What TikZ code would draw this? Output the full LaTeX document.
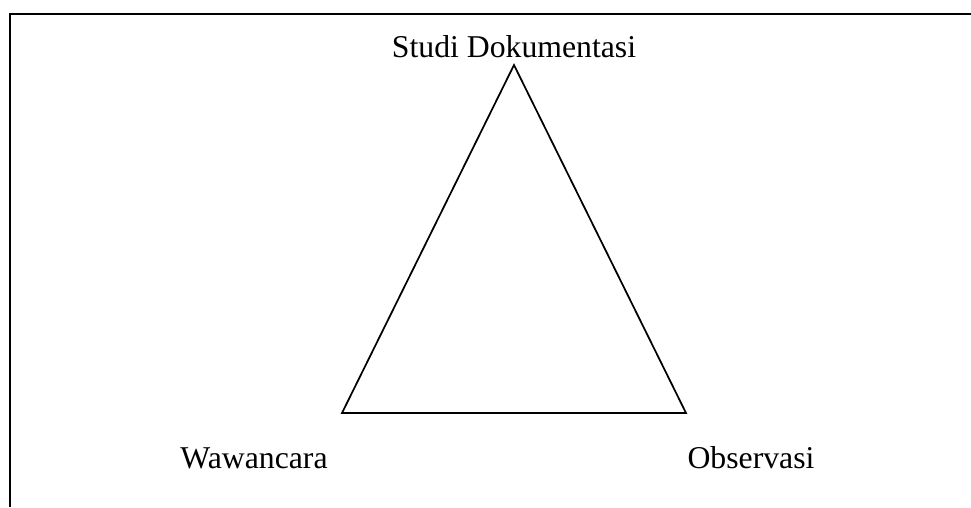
\documentclass[tikz,border=0pt]{standalone}
\usepackage{fontspec}
\setmainfont{Liberation Serif}
\usepackage{tikz}
\usetikzlibrary{positioning}

\begin{document}
\begin{tikzpicture}[x=0.75pt, y=-0.75pt, line width=1.3pt,
    lbl/.style={anchor=base, inner sep=0pt, font=\fontsize{23.8}{28}\selectfont}]
  \useasboundingbox (0,0) rectangle (971,507);
  % frame (cut off at right and bottom)
  \draw[line width=1.5pt] (10,507) -- (10,14) -- (971,14);
  % corners of the triangle
  \coordinate (dok) at (514,65);
  \coordinate (waw) at (342,413);
  \coordinate (obs) at (686,413);
  \draw (dok) -- (waw) -- (obs) -- cycle;
  \node[lbl] (tdok) at (514,57) {Studi Dokumentasi};
  \node[lbl] (twaw) at (254,468) {Wawancara};
  \node[lbl] (tobs) at (751,468) {Observasi};
\end{tikzpicture}
\end{document}
